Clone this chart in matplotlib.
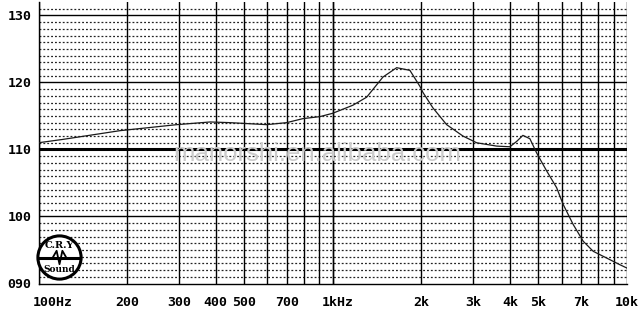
import numpy as np
import matplotlib
matplotlib.use("Agg")
import matplotlib.pyplot as plt
from matplotlib.patches import Circle
from matplotlib.transforms import ScaledTranslation

# frequency response (Hz, dB SPL)
freq = [100, 121, 189, 295, 383, 447, 596, 697, 792, 905, 1000, 1171, 1304,
        1481, 1649, 1829, 1979, 2026, 2190, 2438, 2770, 3083, 3606, 4000,
        4217, 4428, 4677, 4929, 5058, 5332, 5765, 6068, 6564, 7100, 7678,
        8527, 9460, 10000]
spl = [111.0, 111.5, 112.8, 113.7, 114.1, 114.0, 113.7, 114.0, 114.6, 114.9,
       115.4, 116.6, 117.8, 120.8, 122.2, 121.8, 119.4, 118.5, 116.2, 113.7,
       112.0, 111.0, 110.5, 110.4, 111.2, 112.1, 111.6, 109.5, 108.6, 106.8,
       104.3, 101.8, 98.8, 96.3, 94.8, 93.8, 92.8, 92.3]

xticks = [100, 200, 300, 400, 500, 700, 1000, 2000, 3000, 4000, 5000, 7000, 10000]
xlabels = ["100Hz", "200", "300", "400", "500", "700", "1kHz",
           "2k", "3k", "4k", "5k", "7k", "10k"]
yticks = [90, 100, 110, 120, 130]
ylabels = ["090", "100", "110", "120", "130"]

W, H = 642, 310
fig = plt.figure(figsize=(W / 100, H / 100), dpi=100)
fig.patch.set_facecolor("white")

left, right, top, bottom = 38.5, 627.0, 2.0, 283.5
ax = fig.add_axes([left / W, (H - bottom) / H, (right - left) / W, (bottom - top) / H])
ax.set_xscale("log")
ax.set_xlim(100, 10000)
ax.set_ylim(90, 132)

# grid: dotted line every dB, solid every 10 dB, heavy line at 110
for db in range(91, 132):
    if db % 10 == 0:
        continue
    ax.axhline(db, color="#222222", lw=0.9, linestyle=(0, (1.5, 1.6)), zorder=1)
for db in [100, 120, 130]:
    ax.axhline(db, color="black", lw=1.0, zorder=2)
ax.axhline(110, color="black", lw=2.2, zorder=2)

for dec in [100, 1000]:
    for m in range(1, 11):
        ax.axvline(dec * m, color="black", lw=1.0, zorder=2)

ax.plot(freq, spl, color="#1a1a1a", lw=0.9, zorder=4)

for s in ["top", "right"]:
    ax.spines[s].set_visible(False)
ax.spines["left"].set_linewidth(1.0)
ax.spines["bottom"].set_linewidth(1.0)

tick_font = dict(family="DejaVu Sans Mono", weight="bold", size=9.5)
ax.set_xticks(xticks)
ax.set_xticklabels(xlabels, **tick_font)
ax.xaxis.set_minor_locator(matplotlib.ticker.NullLocator())
ax.set_yticks(yticks)
ax.set_yticklabels(ylabels, **tick_font)
ax.tick_params(axis="both", length=0)
ax.tick_params(axis="x", pad=9)
ax.tick_params(axis="y", pad=5)
first = ax.get_xticklabels()[0]
first.set_horizontalalignment("left")
first.set_transform(first.get_transform() + ScaledTranslation(-0.06, 0, fig.dpi_scale_trans))
khz = ax.get_xticklabels()[6]
khz.set_transform(khz.get_transform() + ScaledTranslation(0.05, 0, fig.dpi_scale_trans))

# watermark
ax.text(0.474, 0.46, "manorshi.en.alibaba.com", transform=ax.transAxes,
        ha="center", va="center", fontsize=18.5, family="Liberation Sans",
        color="#cccccc", zorder=5)

# CRY Sound logo
size = 48
lx, ly = 59.5, 257.5
lax = fig.add_axes([(lx - size / 2) / W, (H - ly - size / 2) / H, size / W, size / H])
lax.set_xlim(0, 1)
lax.set_ylim(0, 1)
lax.axis("off")
lax.add_patch(Circle((0.5, 0.5), 0.45, facecolor="white", edgecolor="black", lw=2.2))
lax.plot([0.08, 0.92], [0.5, 0.5], color="black", lw=2.2)
lax.plot([0.36, 0.44, 0.5, 0.56, 0.64], [0.5, 0.64, 0.36, 0.64, 0.5], color="black", lw=1.3)
lax.text(0.5, 0.75, "C.R.Y", ha="center", va="center", fontsize=7,
         family="DejaVu Serif", weight="bold")
lax.text(0.5, 0.25, "Sound", ha="center", va="center", fontsize=6.5,
         family="DejaVu Serif", weight="bold")

fig.savefig("out.png", dpi=100, facecolor="white")
